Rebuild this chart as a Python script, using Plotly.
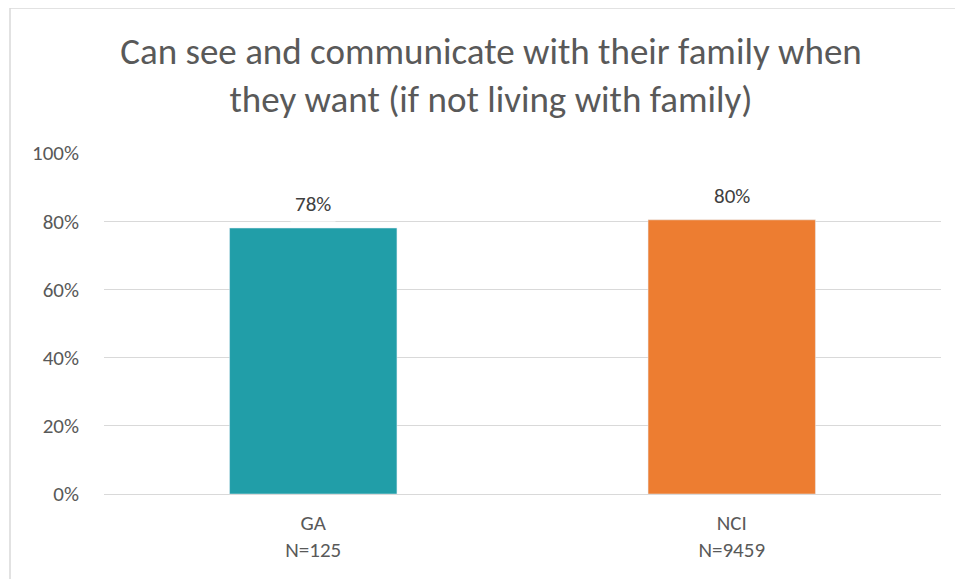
import plotly.graph_objects as go

categories = ["GA<br>N=125", "NCI<br>N=9459"]
values = [0.78, 0.804]
labels = ["78%", "80%"]
colors = ["#219EA8", "#ED7D31"]

FONT = "Carlito, Lato, 'Open Sans', sans-serif"
W, H = 963, 579
OFF = 8  # page body margin offset
L, R, T, B = 104 - OFF, 22 + OFF, 153 - OFF, 85 + OFF
pw = W - L - R
ph = H - T - B

fig = go.Figure()
fig.add_trace(go.Bar(
    x=categories, y=values, marker_color=colors, width=0.4,
    hoverinfo="skip", showlegend=False,
))

for c, v, t in zip(categories, values, labels):
    fig.add_annotation(
        x=c, y=v, text=t, showarrow=False, yanchor="middle", yshift=24,
        bgcolor="white", borderpad=4,
        font=dict(family=FONT, size=21, color="#404040"),
    )

# chart border (Excel-like chart area outline, cropped at right/bottom)
fig.add_shape(
    type="rect", xref="paper", yref="paper",
    x0=(10 - OFF - L) / pw, x1=(W + 20 - L) / pw,
    y0=-(H + 20 - (T + ph)) / ph, y1=(T + ph - (8 - OFF)) / ph,
    line=dict(color="#D9D9D9", width=1.5), fillcolor="rgba(0,0,0,0)", layer="below",
)

fig.update_layout(
    width=W, height=H,
    margin=dict(l=L, r=R, t=T, b=B),
    paper_bgcolor="white", plot_bgcolor="white",
    title=dict(
        text="Can see and communicate with their family when<br>they want (if not living with family)",
        x=(491 - OFF) / W, xanchor="center", xref="container",
        y=1 - (64 - OFF) / H, yanchor="middle", yref="container",
        font=dict(family=FONT, size=37, color="#595959"),
    ),
)
fig.update_yaxes(
    range=[0, 1], dtick=0.2, tickformat=".0%",
    showgrid=True, gridcolor="#D9D9D9", gridwidth=1,
    zeroline=True, zerolinecolor="#D9D9D9", zerolinewidth=1,
    showline=False, ticks="", ticklabelstandoff=24,
    tickfont=dict(family=FONT, size=21, color="#595959"),
)
fig.update_xaxes(
    showline=False, showgrid=False, ticks="",
    tickfont=dict(family=FONT, size=21, color="#595959"),
    ticklabelstandoff=14,
)

fig.write_html("out.html")
